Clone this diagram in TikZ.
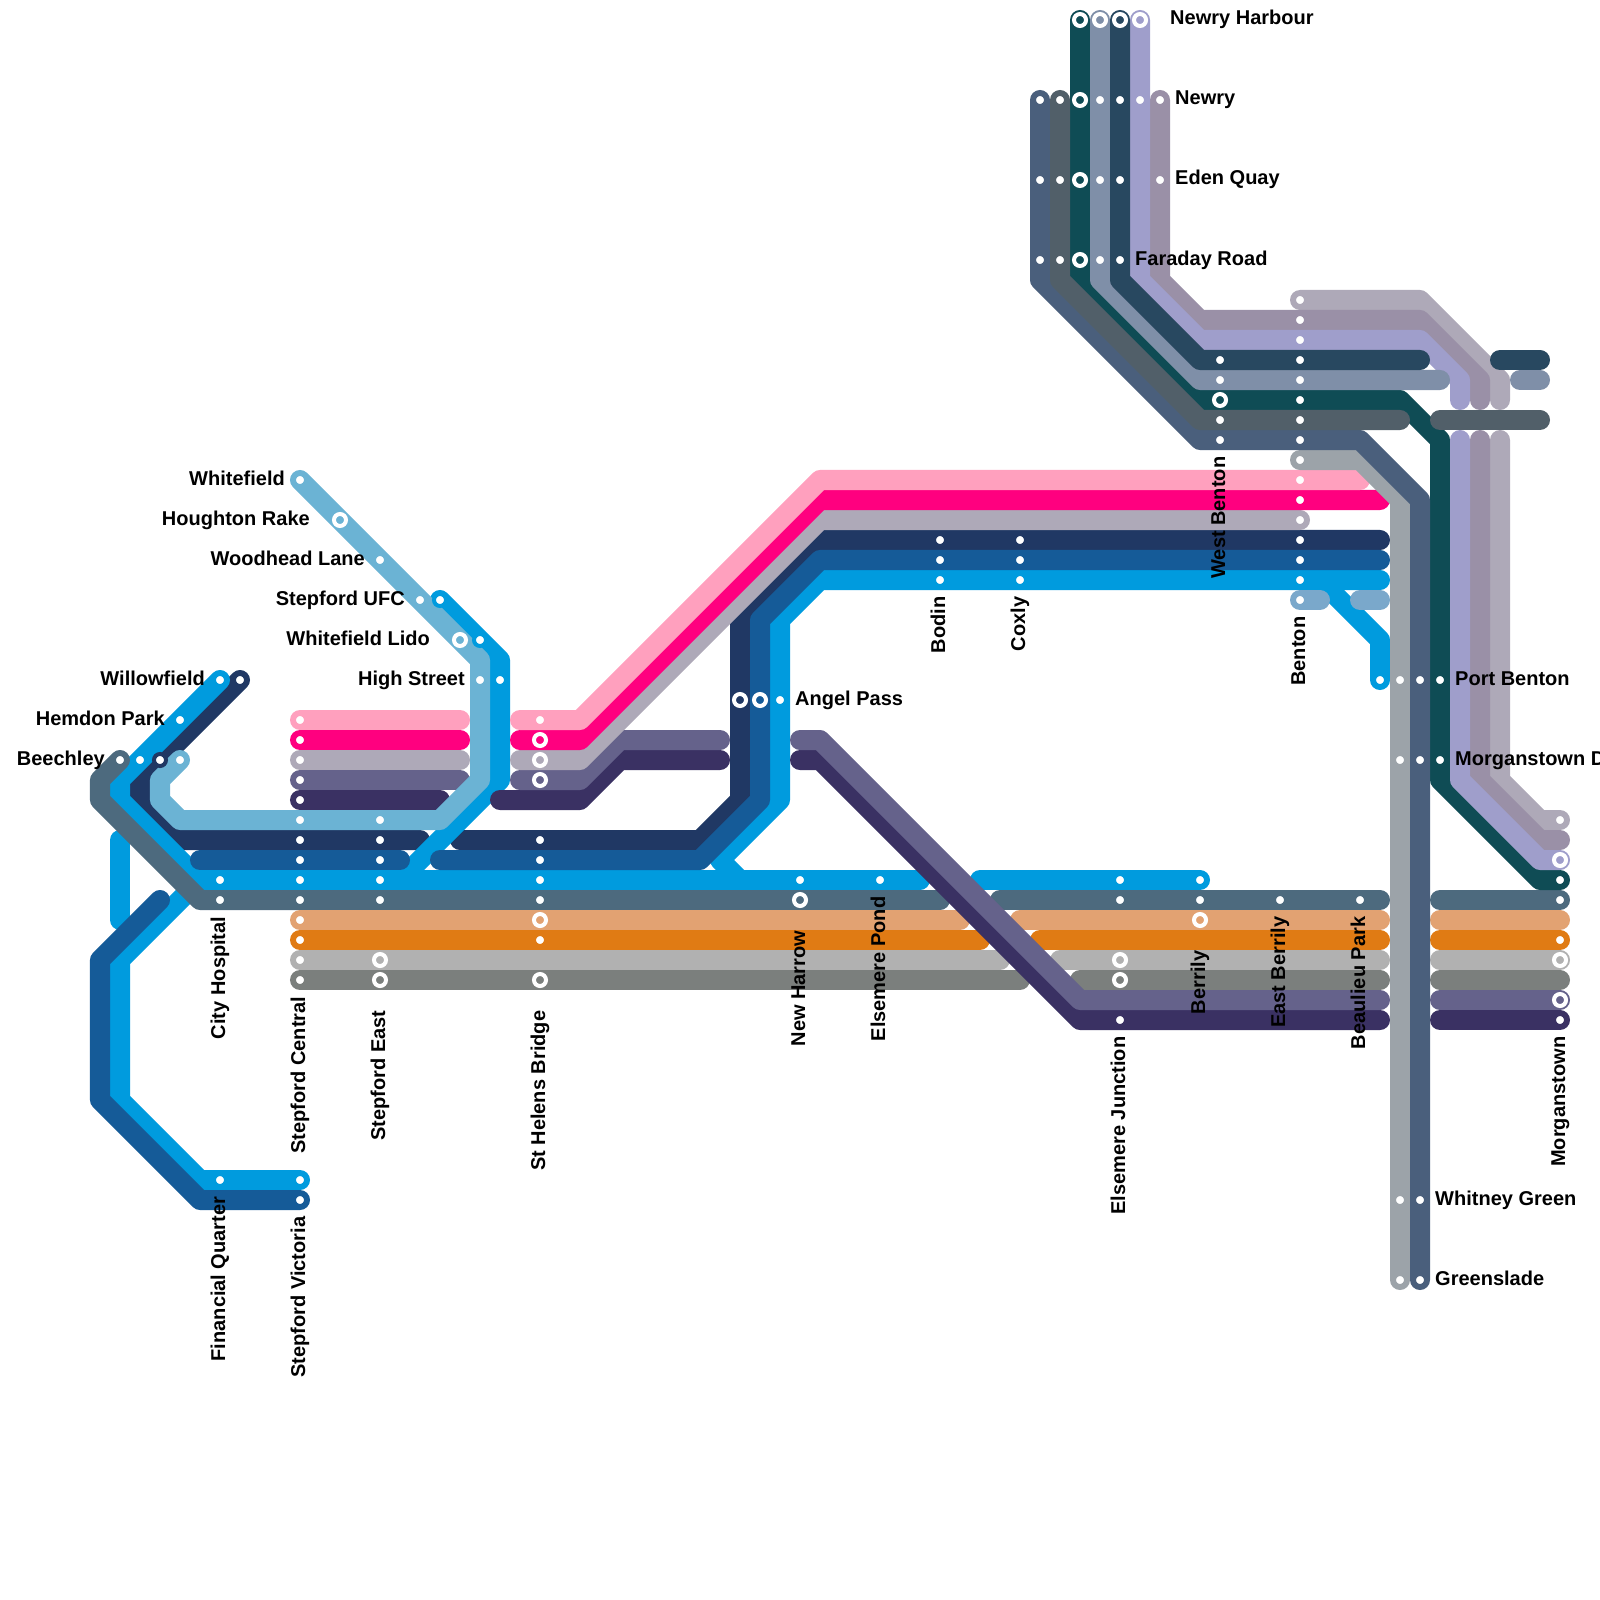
\documentclass[tikz,border=0pt]{standalone}
\usepackage{fontspec}
\setmainfont{Liberation Sans}

\definecolor{cSky}{HTML}{6BB3D4}
\definecolor{cBlue}{HTML}{009BDE}
\definecolor{cNavy}{HTML}{203864}
\definecolor{cDeep}{HTML}{155B98}
\definecolor{cSlate}{HTML}{4D6A7E}
\definecolor{cPeach}{HTML}{E2A272}
\definecolor{cOrange}{HTML}{E07B14}
\definecolor{cSilver}{HTML}{B1B1B1}
\definecolor{cStone}{HTML}{7B7F7D}
\definecolor{cPurple}{HTML}{65628B}
\definecolor{cPlum}{HTML}{3A3163}
\definecolor{cPink}{HTML}{FFA0BE}
\definecolor{cHot}{HTML}{FF007F}
\definecolor{cAsh}{HTML}{AEA9B8}
\definecolor{cMauve}{HTML}{9A90A7}
\definecolor{cLav}{HTML}{9F9ECB}
\definecolor{cHarbour}{HTML}{284860}
\definecolor{cSteel}{HTML}{7F8FA8}
\definecolor{cTeal}{HTML}{0F4C55}
\definecolor{cDusk}{HTML}{4A5F7C}
\definecolor{cCoal}{HTML}{515F69}
\definecolor{cFog}{HTML}{9CA3A9}
\definecolor{cPale}{HTML}{7AA8CB}

\tikzset{
    rail/.style={draw=#1, line width=2mm, line cap=round, line join=round},
    stopdot/.style={circle, inner sep=0pt, minimum size=1.2mm, line width=0.4mm, draw=#1, fill=white},
    hubdot/.style={circle, inner sep=0pt, minimum size=1.2mm, line width=0.4mm, draw=white, fill=#1},
    lab/.style={font=\bfseries\fontsize{5.69}{6.8}\selectfont, inner sep=0pt, text=black},
    labl/.style={lab, anchor=base east},
    labr/.style={lab, anchor=base west},
    labv/.style={lab, anchor=base east, rotate=90}
}

\begin{document}
\begin{tikzpicture}[x=0.01cm, y=-0.01cm]
    \path[use as bounding box, clip] (0,0) rectangle (1600,1600);

    % navy
    \draw[rail=cNavy] (240,680) -- (140,780) -- (140,800) -- (180,840) -- (420,840);
    \draw[rail=cNavy] (460,840) -- (700,840) -- (740,800) -- (740,620) -- (820,540) -- (1380,540);

    % blue
    \draw[rail=cBlue] (120,840) -- (120,920);
    \draw[rail=cBlue] (200,880) -- (120,960) -- (120,1100) -- (200,1180) -- (300,1180);
    \draw[rail=cBlue] (220,680) -- (120,780) -- (120,800) -- (200,880) -- (740,880);
    \draw[rail=cBlue] (440,600) -- (500,660) -- (500,780) -- (400,880);
    \draw[rail=cBlue] (1380,580) -- (820,580) -- (780,620) -- (780,800) -- (720,860) -- (740,880) -- (920,880);
    \draw[rail=cBlue] (980,880) -- (1200,880);
    \draw[rail=cBlue] (1320,580) -- (1380,640) -- (1380,680);
    \draw[rail=cPale] (1300,600) -- (1320,600);
    \draw[rail=cPale] (1360,600) -- (1380,600);

    % deep blue
    \draw[rail=cDeep] (200,860) -- (400,860);
    \draw[rail=cDeep] (440,860) -- (700,860) -- (760,800) -- (760,620) -- (820,560) -- (1380,560);
    \draw[rail=cDeep] (160,900) -- (100,960) -- (100,1100) -- (200,1200) -- (300,1200);

    % lower bundle
    \draw[rail=cSlate] (120,760) -- (100,780) -- (100,800) -- (200,900) -- (940,900);
    \draw[rail=cSlate] (1000,900) -- (1380,900);
    \draw[rail=cSlate] (1440,900) -- (1560,900);
    \draw[rail=cPeach] (300,920) -- (960,920);
    \draw[rail=cPeach] (1020,920) -- (1380,920);
    \draw[rail=cPeach] (1440,920) -- (1560,920);
    \draw[rail=cOrange] (300,940) -- (980,940);
    \draw[rail=cOrange] (1040,940) -- (1380,940);
    \draw[rail=cOrange] (1440,940) -- (1560,940);
    \draw[rail=cSilver] (300,960) -- (1000,960);
    \draw[rail=cSilver] (1060,960) -- (1380,960);
    \draw[rail=cSilver] (1440,960) -- (1560,960);
    \draw[rail=cStone] (300,980) -- (1020,980);
    \draw[rail=cStone] (1080,980) -- (1380,980);
    \draw[rail=cStone] (1440,980) -- (1560,980);

    % plum and purple
    \draw[rail=cPlum] (300,800) -- (440,800);
    \draw[rail=cPlum] (500,800) -- (580,800) -- (620,760) -- (720,760);
    \draw[rail=cPlum] (800,760) -- (820,760) -- (1080,1020) -- (1380,1020);
    \draw[rail=cPlum] (1440,1020) -- (1560,1020);
    \draw[rail=cPurple] (300,780) -- (460,780);
    \draw[rail=cPurple] (520,780) -- (580,780) -- (620,740) -- (720,740);
    \draw[rail=cPurple] (800,740) -- (820,740) -- (1080,1000) -- (1380,1000);
    \draw[rail=cPurple] (1440,1000) -- (1560,1000);

    % sky line
    \draw[rail=cSky] (300,480) -- (480,660) -- (480,780) -- (440,820) -- (180,820) -- (160,800) -- (160,780) -- (180,760);

    % pink bundle
    \draw[rail=cAsh] (300,760) -- (460,760);
    \draw[rail=cAsh] (520,760) -- (580,760) -- (820,520) -- (1300,520);
    \draw[rail=cHot] (300,740) -- (460,740);
    \draw[rail=cHot] (520,740) -- (580,740) -- (820,500) -- (1380,500);
    \draw[rail=cPink] (300,720) -- (460,720);
    \draw[rail=cPink] (520,720) -- (580,720) -- (820,480) -- (1360,480);

    % northern bundle
    \draw[rail=cAsh] (1300,300) -- (1420,300) -- (1500,380) -- (1500,400);
    \draw[rail=cAsh] (1500,440) -- (1500,780) -- (1540,820) -- (1560,820);
    \draw[rail=cMauve] (1160,100) -- (1160,280) -- (1200,320) -- (1420,320) -- (1480,380) -- (1480,400);
    \draw[rail=cMauve] (1480,440) -- (1480,780) -- (1540,840) -- (1560,840);
    \draw[rail=cTeal] (1080,20) -- (1080,280) -- (1200,400) -- (1400,400) -- (1440,440) -- (1440,780) -- (1540,880) -- (1560,880);
    \draw[rail=cLav] (1140,20) -- (1140,280) -- (1200,340) -- (1420,340) -- (1460,380) -- (1460,400);
    \draw[rail=cLav] (1460,440) -- (1460,780) -- (1540,860) -- (1560,860);
    \draw[rail=cFog] (1300,460) -- (1360,460) -- (1400,500) -- (1400,1280);
    \draw[rail=cDusk] (1040,100) -- (1040,280) -- (1200,440) -- (1360,440) -- (1420,500) -- (1420,1280);
    \draw[rail=cCoal] (1060,100) -- (1060,280) -- (1200,420) -- (1400,420);
    \draw[rail=cCoal] (1440,420) -- (1540,420);
    \draw[rail=cSteel] (1100,20) -- (1100,280) -- (1200,380) -- (1440,380);
    \draw[rail=cSteel] (1520,380) -- (1540,380);
    \draw[rail=cHarbour] (1120,20) -- (1120,280) -- (1200,360) -- (1420,360);
    \draw[rail=cHarbour] (1500,360) -- (1540,360);

    % stops on the sky branch
    \node[stopdot=cSky] (whitefield) at (300,480) {};
    \node[hubdot=cSky] (houghton) at (340,520) {};
    \node[stopdot=cSky] (woodhead) at (380,560) {};
    \node[stopdot=cSky] (ufcA) at (420,600) {};
    \node[stopdot=cBlue] (ufcB) at (440,600) {};
    \node[hubdot=cSky] (lidoA) at (460,640) {};
    \node[stopdot=cBlue] (lidoB) at (480,640) {};
    \node[stopdot=cSky] (highA) at (480,680) {};
    \node[stopdot=cBlue] (highB) at (500,680) {};

    % stops in the west
    \node[stopdot=cBlue] (willowA) at (220,680) {};
    \node[stopdot=cNavy] (willowB) at (240,680) {};
    \node[stopdot=cBlue] (hemdon) at (180,720) {};
    \node[stopdot=cSlate] (beechA) at (120,760) {};
    \node[stopdot=cBlue] (beechB) at (140,760) {};
    \node[stopdot=cNavy] (beechC) at (160,760) {};
    \node[stopdot=cSky] (beechD) at (180,760) {};
    \node[stopdot=cBlue] (cityA) at (220,880) {};
    \node[stopdot=cSlate] (cityB) at (220,900) {};
    \node[stopdot=cBlue] (finance) at (220,1180) {};
    \node[stopdot=cBlue] (victA) at (300,1180) {};
    \node[stopdot=cDeep] (victB) at (300,1200) {};

    % Stepford Central
    \node[stopdot=cPink] (centralA) at (300,720) {};
    \node[stopdot=cHot] (centralB) at (300,740) {};
    \node[stopdot=cAsh] (centralC) at (300,760) {};
    \node[stopdot=cPurple] (centralD) at (300,780) {};
    \node[stopdot=cPlum] (centralE) at (300,800) {};
    \node[stopdot=cSky] (centralF) at (300,820) {};
    \node[stopdot=cNavy] (centralG) at (300,840) {};
    \node[stopdot=cDeep] (centralH) at (300,860) {};
    \node[stopdot=cBlue] (centralI) at (300,880) {};
    \node[stopdot=cSlate] (centralJ) at (300,900) {};
    \node[stopdot=cPeach] (centralK) at (300,920) {};
    \node[stopdot=cOrange] (centralL) at (300,940) {};
    \node[stopdot=cSilver] (centralM) at (300,960) {};
    \node[stopdot=cStone] (centralN) at (300,980) {};

    % Stepford East
    \node[stopdot=cSky] (eastA) at (380,820) {};
    \node[stopdot=cNavy] (eastB) at (380,840) {};
    \node[stopdot=cDeep] (eastC) at (380,860) {};
    \node[stopdot=cBlue] (eastD) at (380,880) {};
    \node[stopdot=cSlate] (eastE) at (380,900) {};
    \node[hubdot=cSilver] (eastF) at (380,960) {};
    \node[hubdot=cStone] (eastG) at (380,980) {};

    % St Helens Bridge
    \node[stopdot=cPink] (helensA) at (540,720) {};
    \node[hubdot=cHot] (helensB) at (540,740) {};
    \node[hubdot=cAsh] (helensC) at (540,760) {};
    \node[hubdot=cPurple] (helensD) at (540,780) {};
    \node[stopdot=cNavy] (helensE) at (540,840) {};
    \node[stopdot=cDeep] (helensF) at (540,860) {};
    \node[stopdot=cBlue] (helensG) at (540,880) {};
    \node[stopdot=cSlate] (helensH) at (540,900) {};
    \node[hubdot=cPeach] (helensI) at (540,920) {};
    \node[stopdot=cOrange] (helensJ) at (540,940) {};
    \node[hubdot=cStone] (helensK) at (540,980) {};

    % Angel Pass to Coxly
    \node[hubdot=cNavy] (angelA) at (740,700) {};
    \node[hubdot=cDeep] (angelB) at (760,700) {};
    \node[stopdot=cBlue] (angelC) at (780,700) {};
    \node[stopdot=cBlue] (harrowA) at (800,880) {};
    \node[hubdot=cSlate] (harrowB) at (800,900) {};
    \node[stopdot=cBlue] (pond) at (880,880) {};
    \node[stopdot=cNavy] (bodinA) at (940,540) {};
    \node[stopdot=cDeep] (bodinB) at (940,560) {};
    \node[stopdot=cBlue] (bodinC) at (940,580) {};
    \node[stopdot=cNavy] (coxlyA) at (1020,540) {};
    \node[stopdot=cDeep] (coxlyB) at (1020,560) {};
    \node[stopdot=cBlue] (coxlyC) at (1020,580) {};

    % Elsemere Junction to Beaulieu Park
    \node[stopdot=cBlue] (junctA) at (1120,880) {};
    \node[stopdot=cSlate] (junctB) at (1120,900) {};
    \node[hubdot=cSilver] (junctC) at (1120,960) {};
    \node[hubdot=cStone] (junctD) at (1120,980) {};
    \node[stopdot=cPlum] (junctE) at (1120,1020) {};
    \node[stopdot=cBlue] (berrilyA) at (1200,880) {};
    \node[stopdot=cSlate] (berrilyB) at (1200,900) {};
    \node[hubdot=cPeach] (berrilyC) at (1200,920) {};
    \node[stopdot=cSlate] (eastberrily) at (1280,900) {};
    \node[stopdot=cSlate] (beaulieu) at (1360,900) {};

    % Newry group
    \node[hubdot=cTeal] (harbourA) at (1080,20) {};
    \node[hubdot=cSteel] (harbourB) at (1100,20) {};
    \node[hubdot=cHarbour] (harbourC) at (1120,20) {};
    \node[hubdot=cLav] (harbourD) at (1140,20) {};
    \node[stopdot=cDusk] (newryA) at (1040,100) {};
    \node[stopdot=cCoal] (newryB) at (1060,100) {};
    \node[hubdot=cTeal] (newryC) at (1080,100) {};
    \node[stopdot=cSteel] (newryD) at (1100,100) {};
    \node[stopdot=cHarbour] (newryE) at (1120,100) {};
    \node[stopdot=cLav] (newryF) at (1140,100) {};
    \node[stopdot=cMauve] (newryG) at (1160,100) {};
    \node[stopdot=cDusk] (edenA) at (1040,180) {};
    \node[stopdot=cCoal] (edenB) at (1060,180) {};
    \node[hubdot=cTeal] (edenC) at (1080,180) {};
    \node[stopdot=cSteel] (edenD) at (1100,180) {};
    \node[stopdot=cHarbour] (edenE) at (1120,180) {};
    \node[stopdot=cMauve] (edenF) at (1160,180) {};
    \node[stopdot=cDusk] (faradayA) at (1040,260) {};
    \node[stopdot=cCoal] (faradayB) at (1060,260) {};
    \node[hubdot=cTeal] (faradayC) at (1080,260) {};
    \node[stopdot=cSteel] (faradayD) at (1100,260) {};
    \node[stopdot=cHarbour] (faradayE) at (1120,260) {};

    % West Benton
    \node[stopdot=cHarbour] (westA) at (1220,360) {};
    \node[stopdot=cSteel] (westB) at (1220,380) {};
    \node[hubdot=cTeal] (westC) at (1220,400) {};
    \node[stopdot=cCoal] (westD) at (1220,420) {};
    \node[stopdot=cDusk] (westE) at (1220,440) {};

    % Benton
    \node[stopdot=cAsh] (bentonA) at (1300,300) {};
    \node[stopdot=cMauve] (bentonB) at (1300,320) {};
    \node[stopdot=cLav] (bentonC) at (1300,340) {};
    \node[stopdot=cHarbour] (bentonD) at (1300,360) {};
    \node[stopdot=cSteel] (bentonE) at (1300,380) {};
    \node[stopdot=cTeal] (bentonF) at (1300,400) {};
    \node[stopdot=cCoal] (bentonG) at (1300,420) {};
    \node[stopdot=cDusk] (bentonH) at (1300,440) {};
    \node[stopdot=cFog] (bentonI) at (1300,460) {};
    \node[stopdot=cPink] (bentonJ) at (1300,480) {};
    \node[stopdot=cHot] (bentonK) at (1300,500) {};
    \node[stopdot=cAsh] (bentonL) at (1300,520) {};
    \node[stopdot=cNavy] (bentonM) at (1300,540) {};
    \node[stopdot=cDeep] (bentonN) at (1300,560) {};
    \node[stopdot=cBlue] (bentonO) at (1300,580) {};
    \node[stopdot=cPale] (bentonP) at (1300,600) {};

    % eastern columns
    \node[stopdot=cBlue] (portA) at (1380,680) {};
    \node[stopdot=cFog] (portB) at (1400,680) {};
    \node[stopdot=cDusk] (portC) at (1420,680) {};
    \node[stopdot=cTeal] (portD) at (1440,680) {};
    \node[stopdot=cFog] (dockA) at (1400,760) {};
    \node[stopdot=cDusk] (dockB) at (1420,760) {};
    \node[stopdot=cTeal] (dockC) at (1440,760) {};
    \node[stopdot=cFog] (whitneyA) at (1400,1200) {};
    \node[stopdot=cDusk] (whitneyB) at (1420,1200) {};
    \node[stopdot=cFog] (gladeA) at (1400,1280) {};
    \node[stopdot=cDusk] (gladeB) at (1420,1280) {};

    % Morganstown
    \node[stopdot=cAsh] (morganA) at (1560,820) {};
    \node[hubdot=cLav] (morganB) at (1560,860) {};
    \node[stopdot=cTeal] (morganC) at (1560,880) {};
    \node[stopdot=cSlate] (morganD) at (1560,900) {};
    \node[stopdot=cOrange] (morganE) at (1560,940) {};
    \node[hubdot=cSilver] (morganF) at (1560,960) {};
    \node[hubdot=cPurple] (morganG) at (1560,1000) {};
    \node[stopdot=cPlum] (morganH) at (1560,1020) {};

    % labels to the left
    \node[labl] (lwhitefield) at (285.5,485) {Whitefield};
    \node[labl] (lhoughton) at (310.5,525) {Houghton Rake};
    \node[labl] (lwoodhead) at (365.5,565) {Woodhead Lane};
    \node[labl] (lufc) at (405.5,605) {Stepford UFC};
    \node[labl] (llido) at (430.5,645) {Whitefield Lido};
    \node[labl] (lhigh) at (465.5,685) {High Street};
    \node[labl] (lwillow) at (205.5,685) {Willowfield};
    \node[labl] (lhemdon) at (165.5,725) {Hemdon Park};
    \node[labl] (lbeech) at (105.5,765) {Beechley};

    % labels to the right
    \node[labr] (langel) at (794.5,705) {Angel Pass};
    \node[labr] (lharbour) at (1169.5,25) {Newry Harbour};
    \node[labr] (lnewry) at (1174.5,105) {Newry};
    \node[labr] (leden) at (1174.5,185) {Eden Quay};
    \node[labr] (lfaraday) at (1134.5,265) {Faraday Road};
    \node[labr] (lport) at (1454.5,685) {Port Benton};
    \node[labr] (ldock) at (1454.5,765) {Morganstown D};
    \node[labr] (lwhitney) at (1434.5,1205) {Whitney Green};
    \node[labr] (lglade) at (1434.5,1285) {Greenslade};

    % labels turned upright
    \node[labv] (lcity) at (225,916) {City Hospital};
    \node[labv] (lfinance) at (225,1196) {Financial Quarter};
    \node[labv] (lcentral) at (305,996) {Stepford Central};
    \node[labv] (lvict) at (305,1216) {Stepford Victoria};
    \node[labv] (least) at (385,1010) {Stepford East};
    \node[labv] (lhelens) at (545,1010) {St Helens Bridge};
    \node[labv] (lharrow) at (805,930) {New Harrow};
    \node[labv] (lpond) at (885,896) {Elsemere Pond};
    \node[labv] (lbodin) at (945,596) {Bodin};
    \node[labv] (lcoxly) at (1025,596) {Coxly};
    \node[labv] (ljunct) at (1125,1036) {Elsemere Junction};
    \node[labv] (lberrily) at (1205,950) {Berrily};
    \node[labv] (lwest) at (1225,456) {West Benton};
    \node[labv] (leastberrily) at (1285,916) {East Berrily};
    \node[labv] (lbenton) at (1305,616) {Benton};
    \node[labv] (lbeaulieu) at (1365,916) {Beaulieu Park};
    \node[labv] (lmorgan) at (1565,1036) {Morganstown};
\end{tikzpicture}
\end{document}
